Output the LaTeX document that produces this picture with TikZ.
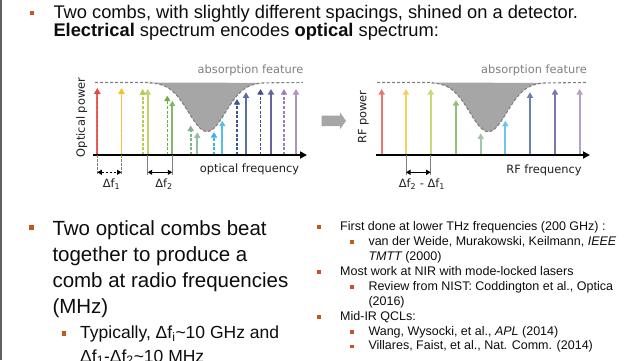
\documentclass[tikz,border=0pt]{standalone}
\usepackage{fontspec}
\setmainfont{Liberation Sans}
\newfontfamily\plotfont{DejaVu Sans}
\usetikzlibrary{arrows.meta}
\definecolor{bulc}{HTML}{C4561E}
\definecolor{cA}{HTML}{E8463F}
\definecolor{cB}{HTML}{F4BF2A}
\definecolor{cC}{HTML}{B5CC4E}
\definecolor{cD}{HTML}{6AAE4A}
\definecolor{cE}{HTML}{80B48C}
\definecolor{cF}{HTML}{38B4E4}
\definecolor{cG}{HTML}{3A5795}
\definecolor{cH}{HTML}{4B4A8E}
\definecolor{cI}{HTML}{9C80B8}
\definecolor{absfill}{HTML}{A6A6A6}
\definecolor{absline}{HTML}{808080}
\definecolor{txtc}{HTML}{0D0D0D}
\definecolor{ptxtc}{HTML}{1F1F1F}
\begin{document}
\begin{tikzpicture}[x=1pt,y=-1pt,
  txt/.style={inner sep=0pt, anchor=base west, text=txtc},
  ptxt/.style={inner sep=0pt, anchor=base, font=\plotfont\fontsize{11.4}{13}\selectfont, text=ptxtc},
  combS/.style={line width=1.8pt, -{Triangle[width=6pt,length=5.5pt]}},
  combD/.style={line width=1.6pt, dash pattern=on 3pt off 1.6pt, -{Triangle[width=6pt,length=5.5pt]}},
  rfS/.style={line width=1.7pt, -{Triangle[width=6pt,length=5.5pt]}},
  axisline/.style={line width=1.7pt, -{Triangle[width=7pt,length=7pt]}},
  guide/.style={draw=gray, line width=1pt},
  spanarrow/.style={line width=1.4pt, {Triangle[width=5pt,length=4.5pt]}-{Triangle[width=5pt,length=4.5pt]}},
  bul/.style={fill=bulc},
  absedge/.style={draw=absline, line width=1.1pt, dash pattern=on 3pt off 2pt}
]
\useasboundingbox (0,0) rectangle (640,360);
\fill[white] (0,0) rectangle (640,360);
\fill[black!62] (0,0) rectangle (1.5,360);

% ---------- top text ----------
\fill[bul] (29.5,10.5) rectangle (34,15);
\node[txt, font=\fontsize{18.3}{21}\selectfont] (t1) at (53.3,18.3) {Two combs, with slightly different spacings, shined on a detector.};
\node[txt, font=\fontsize{18.3}{21}\selectfont] (t2) at (53.3,36) {{\bfseries Electrical} spectrum encodes {\bfseries optical} spectrum:};

% ---------- left plot ----------
\fill[absfill] (150,82.5) -- plot[domain=150:265,samples=80] (\x,{82.5+49*exp(-((\x-207)^2)/684.5)}) -- cycle;
\draw[absedge] (95,82.5) -- (150,82.5) -- plot[domain=150:265,samples=80] (\x,{82.5+49*exp(-((\x-207)^2)/684.5)}) -- (303,82.5);
\node[ptxt, text=absline] (absL) at (250.5,73.5) {absorption feature};

\foreach \xx/\yy/\cc in {97.3/88.3/cA, 121.5/88.3/cB, 147.7/89/cC, 172.3/100.7/cD, 197.3/132.3/cE, 222.3/120.7/cF, 246/92.3/cG, 271/89/cH, 296/89/cI}
  \draw[combS, draw=\cc!85!white] (\xx,155) -- (\xx,\yy);
\foreach \xx/\yy/\cc in {97.3/88.3/cA, 121.5/88.3/cB, 142.7/89/cC, 167.3/95.7/cD, 190.7/125.5/cE, 214/132/cF, 237/99/cG, 260.5/89/cH, 284/89/cI}
  \draw[combD, draw=\cc] (\xx,155) -- (\xx,\yy);

\draw[axisline] (93,155) -- (307,155);
\node[ptxt] (oflab) at (249.5,172.3) {optical frequency};
\node[ptxt, anchor=center, rotate=90] (oplab) at (81.7,117.5) {Optical power};

\draw[guide, dash pattern=on 2.5pt off 1.5pt] (97.3,155) -- (97.3,175);
\draw[guide, dash pattern=on 2.5pt off 1.5pt] (121.5,155) -- (121.5,175);
\draw[spanarrow, dash pattern=on 2.5pt off 1.5pt] (97.3,172.3) -- (121.5,172.3);
\draw[guide] (147.7,155) -- (147.7,175);
\draw[guide] (172.3,155) -- (172.3,175);
\draw[spanarrow] (147.7,172.3) -- (172.3,172.3);
\node[ptxt] (df1) at (111.5,187.7) {Δf\textsubscript{1}};
\node[ptxt] (df2) at (164,187.7) {Δf\textsubscript{2}};

% ---------- block arrow ----------
\fill[absfill] (321.7,115.5) -- (340,115.5) -- (340,112.3) -- (346,120.8) -- (340,129.3) -- (340,126) -- (321.7,126) -- cycle;

% ---------- right plot ----------
\fill[absfill] (432,82.5) -- plot[domain=432:545,samples=80] (\x,{82.5+49.2*exp(-((\x-488.3)^2)/684.5)}) -- cycle;
\draw[absedge] (377,82.5) -- (432,82.5) -- plot[domain=432:545,samples=80] (\x,{82.5+49.2*exp(-((\x-488.3)^2)/684.5)}) -- (587,82.5);
\node[ptxt, text=absline] (absR) at (534,73.5) {absorption feature};

\foreach \xx/\yy/\cc in {381.7/89/cA, 406/89/cB, 430.7/89/cC, 456/100/cD, 480.7/133.3/cE, 505.3/120.7/cF, 530/92.3/cG, 555/89/cH, 579.7/89/cI}
  \draw[rfS, draw=\cc!75!white] (\xx,155) -- (\xx,\yy);

\draw[axisline] (376,155) -- (590,155);
\node[ptxt] (rflab) at (544,173.3) {RF frequency};
\node[ptxt, anchor=center, rotate=90] (rplab) at (363.3,117) {RF power};
\draw[guide] (406,155) -- (406,175);
\draw[guide] (430.7,155) -- (430.7,175);
\draw[spanarrow] (406,172.3) -- (430.7,172.3);
\node[ptxt] (df21) at (422,187.7) {Δf\textsubscript{2} - Δf\textsubscript{1}};

% ---------- bottom left text ----------
\fill[bul] (29.3,225) rectangle (34.3,230);
\node[txt, font=\fontsize{20.5}{24}\selectfont] (b1) at (52.3,235) {Two optical combs beat};
\node[txt, font=\fontsize{20.5}{24}\selectfont] (b2) at (52.3,261.3) {together to produce a};
\node[txt, font=\fontsize{20.5}{24}\selectfont] (b3) at (52.3,287.6) {comb at radio frequencies};
\node[txt, font=\fontsize{20.5}{24}\selectfont] (b4) at (52.3,313.9) {(MHz)};
\fill[bul] (61.8,331) rectangle (66.3,335.5);
\node[txt, font=\fontsize{17.5}{21}\selectfont] (b5) at (80,338.3) {Typically, Δf\textsubscript{i}{\char"7E}10 GHz and};
\node[txt, font=\fontsize{17.5}{21}\selectfont] (b6) at (80,362) {Δf\textsubscript{1}-Δf\textsubscript{2}{\char"7E}10 MHz};

% ---------- right text ----------
\foreach \yy in {226.7,271.7,316.7}
  \fill[bul] (317.2,\yy-1.8) rectangle (320.8,\yy+1.8);
\foreach \yy in {241.7,287,331.7,346.4}
  \fill[bul] (349.9,\yy-1.8) rectangle (353.5,\yy+1.8);
\node[txt, font=\fontsize{12.5}{15}\selectfont] (r1) at (340,230.7) {First done at lower THz frequencies (200 GHz) :};
\node[txt, font=\fontsize{12.5}{15}\selectfont] (r2) at (368.3,245.6) {van der Weide, Murakowski, Keilmann, \itshape IEEE};
\node[txt, font=\fontsize{12.5}{15}\selectfont] (r3) at (368.3,260.5) {\itshape TMTT\upshape\ (2000)};
\node[txt, font=\fontsize{12.5}{15}\selectfont] (r4) at (340,275.4) {Most work at NIR with mode-locked lasers};
\node[txt, font=\fontsize{12.5}{15}\selectfont] (r5) at (368.3,290.3) {Review from NIST: Coddington et al., Optica};
\node[txt, font=\fontsize{12.5}{15}\selectfont] (r6) at (368.3,305.2) {(2016)};
\node[txt, font=\fontsize{12.5}{15}\selectfont] (r7) at (340,320.1) {Mid-IR QCLs:};
\node[txt, font=\fontsize{12.5}{15}\selectfont] (r8) at (368.3,335) {Wang, Wysocki, et al., \itshape APL\upshape\ (2014)};
\node[txt, font=\fontsize{12.5}{15}\selectfont] (r9) at (368.3,349.9) {Villares, Faist, et al., Nat. Comm. (2014)};
\end{tikzpicture}
\end{document}
